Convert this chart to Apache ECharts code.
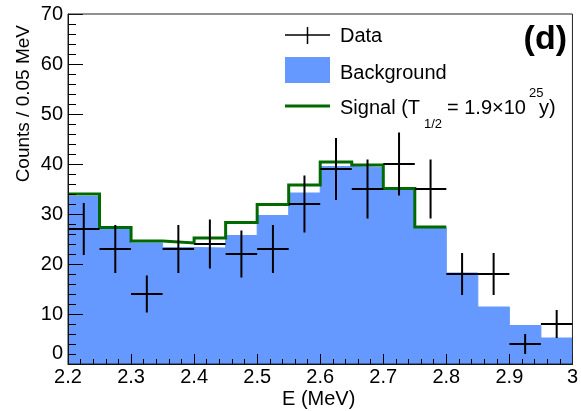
<!DOCTYPE html>
<html>
<head>
<meta charset="utf-8">
<script src="https://cdn.jsdelivr.net/npm/echarts@6/dist/echarts.min.js"></script>
<style>
  html, body { margin: 0; padding: 0; background: #fff; }
  #chart { width: 581px; height: 411px; }
</style>
</head>
<body>
<div id="chart"></div>
<script>
// Histogram bin edges (MeV), 0.05 MeV wide
const binEdges = [2.20, 2.25, 2.30, 2.35, 2.40, 2.45, 2.50, 2.55, 2.60,
                  2.65, 2.70, 2.75, 2.80, 2.85, 2.90, 2.95, 3.00];

// Observed counts per bin and their error half-lengths
const dataCounts = [27, 23, 14, 23, 24, 22, 23, 32, 39, 35, 40, 35, 18, 18, 4, 8];
const dataErrors = [5.2, 4.8, 3.7, 4.8, 4.9, 4.7, 4.8, 5.7, 6.2, 5.9, 6.3, 5.9, 4.2, 4.2, 2.0, 2.8];

// Background model per bin
const background = [33.5, 26.9, 24.2, 23.3, 23.2, 25.7, 29.7, 34.2,
                    39.5, 39.3, 34.9, 27.2, 18.2, 11.4, 7.7, 5.2];

// Background + signal (drawn up to 2.8 MeV)
const signalTotal = [34.0, 27.3, 24.6, 24.2, 25.2, 28.3, 31.9, 35.8,
                     40.4, 39.8, 35.1, 27.4];

// Axis ticks
const xTickLabels = ['2.2', '2.3', '2.4', '2.5', '2.6', '2.7', '2.8', '2.9', '3'];
const yTickLabels = ['0', '10', '20', '30', '40', '50', '60', '70'];

// Step-line points: each bin value starts at its low edge, last one repeated at the top edge
function stepPoints(values) {
  const pts = values.map((v, i) => [binEdges[i], v]);
  pts.push([binEdges[values.length], values[values.length - 1]]);
  return pts;
}

const dataPoints = dataCounts.map((c, i) => [
  (binEdges[i] + binEdges[i + 1]) / 2, c, dataErrors[i], binEdges[i], binEdges[i + 1]
]);

const FONT = '"Liberation Sans", Arial, Helvetica, sans-serif';
const BLUE = '#6699ff';
const GREEN = '#006a00';

const chart = echarts.init(document.getElementById('chart'), null, { renderer: 'canvas' });

chart.setOption({
  animation: false,
  backgroundColor: '#fff',
  grid: {
    left: 68, right: 3, top: 14, bottom: 47,
    show: true, borderColor: '#222', borderWidth: 1, backgroundColor: 'transparent', z: 6
  },
  xAxis: {
    type: 'value', min: 2.2, max: 3.0, interval: 0.1, z: 5,
    axisLine: { show: true, onZero: false, lineStyle: { color: '#000', width: 1 } },
    axisTick: { show: true, inside: true, length: 10, lineStyle: { color: '#000', width: 1 } },
    minorTick: { show: true, splitNumber: 5, length: 5, lineStyle: { color: '#000', width: 1 } },
    splitLine: { show: false },
    axisLabel: {
      margin: 3, color: '#000', fontFamily: FONT, fontSize: 20,
      showMinLabel: true, showMaxLabel: true,
      formatter: v => xTickLabels[Math.round((v - 2.2) * 10)] ?? ''
    }
  },
  yAxis: {
    type: 'value', min: 0, max: 70, interval: 10, z: 5,
    axisLine: { show: true, onZero: false, lineStyle: { color: '#000', width: 1 } },
    axisTick: { show: true, inside: true, length: 15, lineStyle: { color: '#000', width: 1 } },
    minorTick: { show: true, splitNumber: 5, length: 8, lineStyle: { color: '#000', width: 1 } },
    splitLine: { show: false },
    axisLabel: {
      margin: 5, color: '#000', fontFamily: FONT, fontSize: 20,
      formatter: v => {
        const t = yTickLabels[Math.round(v / 10)] ?? '';
        return v === 0 ? '{z|' + t + '}' : t;
      },
      rich: { z: { fontFamily: FONT, fontSize: 20, color: '#000', padding: [0, 0, 22, 0] } }
    }
  },
  series: [
    {
      name: 'Background', type: 'line', step: 'end', z: 1,
      data: stepPoints(background), showSymbol: false, symbol: 'none',
      lineStyle: { width: 1, color: BLUE }, itemStyle: { color: BLUE },
      areaStyle: { color: BLUE, opacity: 1 }
    },
    {
      name: 'Signal', type: 'line', step: 'end', z: 2,
      data: stepPoints(signalTotal), showSymbol: false, symbol: 'none',
      lineStyle: { width: 3, color: GREEN, cap: 'butt', join: 'miter' }, itemStyle: { color: GREEN }
    },
    {
      name: 'Data', type: 'custom', z: 3,
      data: dataPoints,
      encode: { x: 0, y: 1 },
      renderItem: (params, api) => {
        const y = api.value(1), e = api.value(2);
        const xc = api.value(0), xl = api.value(3), xr = api.value(4);
        const pl = api.coord([xl, y]), pr = api.coord([xr, y]);
        const pt = api.coord([xc, y + e]), pb = api.coord([xc, Math.max(0, y - e)]);
        const st = { stroke: '#000', lineWidth: 2 };
        return {
          type: 'group',
          children: [
            { type: 'line', shape: { x1: pl[0], y1: pl[1], x2: pr[0], y2: pr[1] }, style: st },
            { type: 'line', shape: { x1: pt[0], y1: pt[1], x2: pb[0], y2: pb[1] }, style: st }
          ]
        };
      }
    }
  ],
  graphic: [
    // axis titles
    {
      type: 'text', x: 24, y: 25, rotation: Math.PI / 2, z: 10,
      style: { text: 'Counts / 0.05 MeV', fontFamily: FONT, fontSize: 19, fill: '#000',
               align: 'right', verticalAlign: 'middle' }
    },
    {
      type: 'text', x: 578, y: 399, z: 10,
      style: { text: 'E (MeV)', fontFamily: FONT, fontSize: 20, fill: '#000',
               align: 'center', verticalAlign: 'middle' },
      left: 282, top: 389
    },
    // panel tag
    {
      type: 'text', x: 567, y: 40, z: 10,
      style: { text: '(d)', fontFamily: FONT, fontSize: 34, fontWeight: 'bold', fill: '#000',
               align: 'right', verticalAlign: 'middle' }
    },
    // legend: Data
    { type: 'line', z: 10, shape: { x1: 285, y1: 35, x2: 330, y2: 35 }, style: { stroke: '#000', lineWidth: 1.5 } },
    { type: 'line', z: 10, shape: { x1: 307.5, y1: 27, x2: 307.5, y2: 44 }, style: { stroke: '#000', lineWidth: 1.5 } },
    { type: 'text', z: 10, x: 340, y: 36,
      style: { text: 'Data', fontFamily: FONT, fontSize: 20, fill: '#000', verticalAlign: 'middle' } },
    // legend: Background
    { type: 'rect', z: 10, shape: { x: 285, y: 57, width: 45, height: 26 }, style: { fill: BLUE } },
    { type: 'text', z: 10, x: 340, y: 73,
      style: { text: 'Background', fontFamily: FONT, fontSize: 20, fill: '#000', verticalAlign: 'middle' } },
    // legend: Signal
    { type: 'line', z: 10, shape: { x1: 285, y1: 106, x2: 330, y2: 106 }, style: { stroke: GREEN, lineWidth: 3 } },
    { type: 'text', z: 10, x: 340, y: 108,
      style: { text: 'Signal (T', fontFamily: FONT, fontSize: 20, fill: '#000', verticalAlign: 'middle' } },
    { type: 'text', z: 10, x: 424, y: 124,
      style: { text: '1/2', fontFamily: FONT, fontSize: 13, fill: '#000', verticalAlign: 'middle' } },
    { type: 'text', z: 10, x: 447, y: 108,
      style: { text: '= 1.9×10', fontFamily: FONT, fontSize: 20, fill: '#000', verticalAlign: 'middle' } },
    { type: 'text', z: 10, x: 529, y: 93,
      style: { text: '25', fontFamily: FONT, fontSize: 13, fill: '#000', verticalAlign: 'middle' } },
    { type: 'text', z: 10, x: 539, y: 108,
      style: { text: 'y)', fontFamily: FONT, fontSize: 20, fill: '#000', verticalAlign: 'middle' } }
  ]
});
</script>
</body>
</html>
